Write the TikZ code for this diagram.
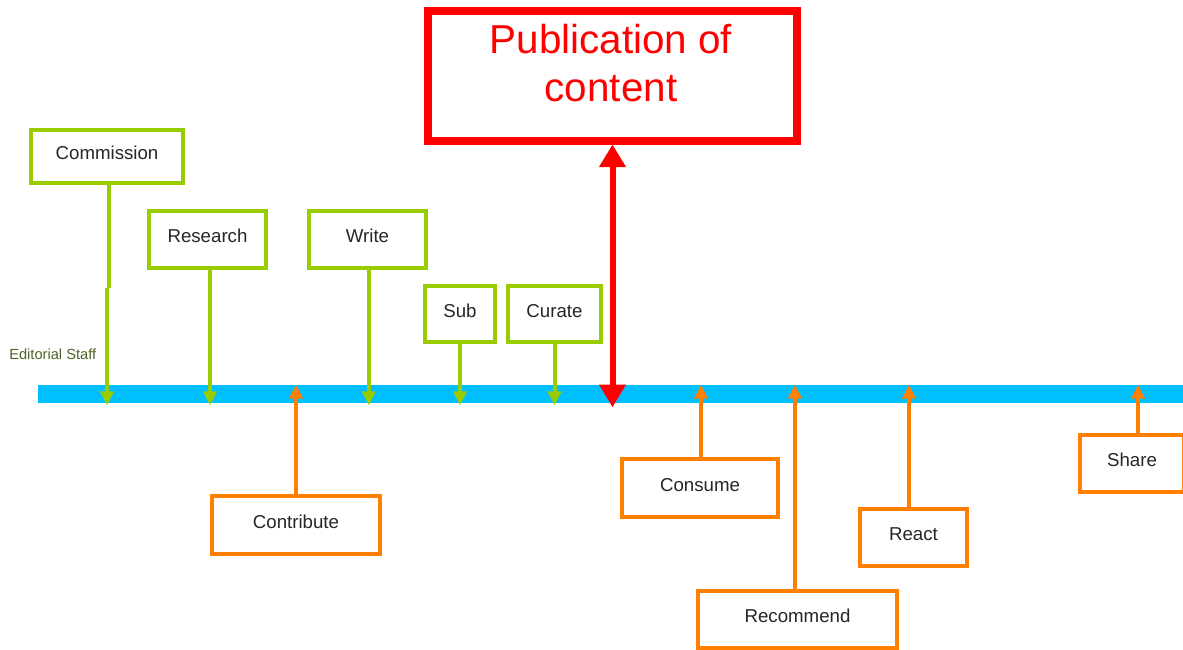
\documentclass[tikz,border=0pt]{standalone}
\usepackage{fontspec}
\setmainfont{Liberation Sans}
\usetikzlibrary{arrows.meta}
\definecolor{gbox}{RGB}{153,204,0}
\definecolor{obox}{RGB}{255,128,0}
\definecolor{barblue}{RGB}{0,191,255}
\definecolor{pubred}{RGB}{255,0,0}
\definecolor{edtext}{RGB}{80,100,40}
\tikzset{
  boxbase/.style={draw, line width=3pt, fill=white, font=\fontsize{14}{16}\selectfont,
    text=black!85, inner sep=0pt, text height=0.75em, text depth=0.3em},
  gbx/.style={boxbase, draw=gbox},
  obx/.style={boxbase, draw=obox},
  garrow/.style={draw=gbox, line width=3pt, -{Triangle[width=10pt,length=10.5pt]}},
  oarrow/.style={draw=obox, line width=3pt, -{Triangle[width=10pt,length=10.5pt]}},
  parrow/.style={draw=pubred, line width=4.5pt, {Triangle[width=19pt,length=17pt]}-{Triangle[width=19pt,length=17pt]}},
  pubbox/.style={draw=pubred, line width=6pt, fill=white, inner sep=0pt},
  pubtext/.style={text=pubred, align=center, font=\fontsize{30.3}{36}\selectfont},
  barline/.style={fill=barblue, inner sep=0pt, minimum width=858.75pt, minimum height=13.5pt},
}
\begin{document}
\begin{tikzpicture}[x=0.75pt, y=-0.75pt]
\useasboundingbox (0,0) rectangle (1183,650);
\clip (0,0) rectangle (1183,650);
\fill[white] (0,0) rectangle (1183,650);

% timeline bar
\node[barline] (bar) at (610.5,394) {};

% editorial staff label
\node[anchor=west, inner sep=0pt, text=edtext, font=\fontsize{11}{12}\selectfont] (ed) at (9,354) {Editorial Staff};

% publication box
\node[pubbox, minimum width=276.75pt, minimum height=97.5pt] (pub) at (612.5,76) {};
\node[pubtext] (pubt) at (611,63) {Publication of\\content};

% green boxes
\node[gbx, minimum width=114pt, minimum height=39.75pt] (comm) at (107,156.5) {Commission};
\node[gbx, minimum width=87.75pt, minimum height=42.75pt] (res) at (207.5,239.5) {Research};
\node[gbx, minimum width=87.75pt, minimum height=42.75pt] (write) at (367.5,239.5) {Write};
\node[gbx, minimum width=52.5pt, minimum height=42pt] (sub) at (460,314) {Sub};
\node[gbx, minimum width=69.75pt, minimum height=42pt] (cur) at (554.5,314) {Curate};

% orange boxes
\node[obx, minimum width=126pt, minimum height=43.5pt] (contr) at (296,525) {Contribute};
\node[obx, minimum width=117pt, minimum height=43.5pt] (cons) at (700,488) {Consume};
\node[obx, minimum width=149.25pt, minimum height=42.75pt] (rec) at (797.5,619.5) {Recommend};
\node[obx, minimum width=80.25pt, minimum height=42.75pt] (react) at (913.5,537.5) {React};
\node[obx, minimum width=78pt, minimum height=42.75pt] (share) at (1132,463.5) {Share};

% green arrows (down onto bar)
\coordinate (cb) at ([yshift=-1.5pt]bar.south);
\coordinate (kink) at ([xshift=1.5pt]comm.south |- 0,288);
\draw[draw=gbox, line width=3pt] ([xshift=1.5pt]comm.south) -- (kink);
\draw[garrow] ([xshift=0pt]comm.south |- kink) -- ([xshift=0pt]comm.south |- cb);
\draw[garrow] ([xshift=1.9pt]res.south) -- ([xshift=1.9pt]res.south |- cb);
\draw[garrow] ([xshift=1pt]write.south) -- ([xshift=1pt]write.south |- cb);
\draw[garrow] (sub.south) -- (sub.south |- cb);
\draw[garrow] (cur.south) -- (cur.south |- cb);

% orange arrows (up onto bar)
\draw[oarrow] (contr.north) -- (contr.north |- bar.north);
\draw[oarrow] ([xshift=0.75pt]cons.north) -- ([xshift=0.75pt]cons.north |- bar.north);
\draw[oarrow] ([xshift=-1.9pt]rec.north) -- ([xshift=-1.9pt]rec.north |- bar.north);
\draw[oarrow] ([xshift=-3.4pt]react.north) -- ([xshift=-3.4pt]react.north |- bar.north);
\draw[oarrow] ([xshift=4.5pt]share.north) -- ([xshift=4.5pt]share.north |- bar.north);

% publication arrow
\coordinate (pb) at ([yshift=-3pt]bar.south);
\draw[parrow] (pub.south |- pb) -- ([yshift=0.5pt]pub.south);
\end{tikzpicture}
\end{document}
